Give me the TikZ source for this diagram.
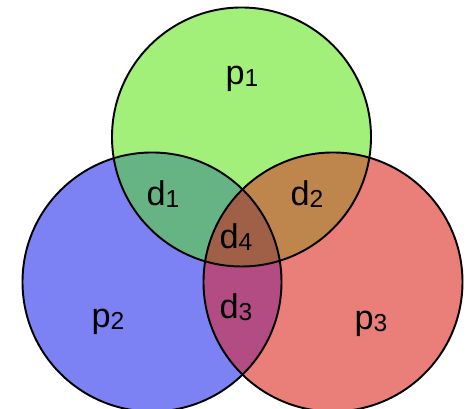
\documentclass[tikz,border=0pt]{standalone}
\usepackage{fontspec}
\setmainfont{Liberation Sans}
\definecolor{pgreen}{RGB}{162,240,122}
\definecolor{pblue}{RGB}{124,130,244}
\definecolor{pred}{RGB}{234,126,120}
\definecolor{dgreen}{RGB}{102,180,132}
\definecolor{dbrown}{RGB}{190,134,76}
\definecolor{dpurple}{RGB}{178,76,130}
\definecolor{dcore}{RGB}{160,96,72}
\newcommand{\setlbl}[2]{#1\raisebox{-0.1ex}{\fontsize{14}{15}\selectfont #2}}
\begin{document}
\begin{tikzpicture}[
  region/.style={font=\fontsize{19.5}{21}\selectfont, inner sep=0pt},
  rim/.style={draw=black, line width=1.1pt}]
\useasboundingbox (0,0) rectangle (9.4,8.18);
\def\rad{2.59}
\coordinate (c1) at (4.83,5.44);
\coordinate (c2) at (3.04,2.54);
\coordinate (c3) at (6.66,2.54);
% plain sets
\fill[pgreen] (c1) circle (\rad);
\fill[pblue] (c2) circle (\rad);
\fill[pred] (c3) circle (\rad);
% overlaps
\begin{scope}
  \clip (c2) circle (\rad);
  \fill[dpurple] (c3) circle (\rad);
\end{scope}
\begin{scope}
  \clip (c1) circle (\rad);
  \fill[dgreen] (c2) circle (\rad);
  \fill[dbrown] (c3) circle (\rad);
  \clip (c2) circle (\rad);
  \fill[dcore] (c3) circle (\rad);
\end{scope}
\draw[rim] (c1) circle (\rad);
\draw[rim] (c2) circle (\rad);
\draw[rim] (c3) circle (\rad);
% labels
\node[region] (p1) at (4.84,6.6) {\setlbl{p}{1}};
\node[region] (p2) at (2.16,1.74) {\setlbl{p}{2}};
\node[region] (p3) at (7.42,1.7) {\setlbl{p}{3}};
\node[region] (d1) at (3.26,4.3) {\setlbl{d}{1}};
\node[region] (d2) at (6.14,4.3) {\setlbl{d}{2}};
\node[region] (d4) at (4.72,3.44) {\setlbl{d}{4}};
\node[region] (d3) at (4.72,2.04) {\setlbl{d}{3}};
\end{tikzpicture}
\end{document}
